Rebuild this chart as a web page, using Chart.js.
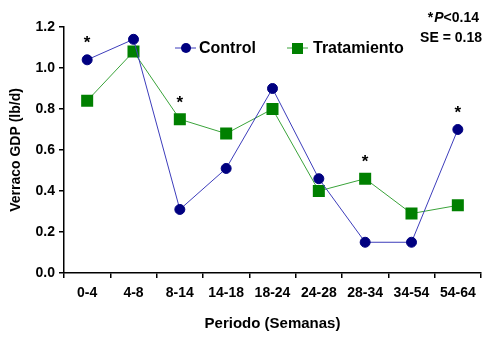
<!DOCTYPE html>
<html>
<head>
<meta charset="utf-8">
<script src="https://cdn.jsdelivr.net/npm/chart.js@4/dist/chart.umd.min.js"></script>
<style>
  html, body { margin: 0; padding: 0; background: #fff; }
  #wrap { width: 500px; height: 347px; }
</style>
</head>
<body>
<div id="wrap"><canvas id="myChart" width="500" height="347"></canvas></div>
<script>
// data
const periodos = ['0-4', '4-8', '8-14', '14-18', '18-24', '24-28', '28-34', '34-54', '54-64'];
const control = [1.04, 1.14, 0.31, 0.51, 0.90, 0.46, 0.15, 0.15, 0.70];
const tratamiento = [0.84, 1.08, 0.75, 0.68, 0.80, 0.40, 0.46, 0.29, 0.33];
const yTicks = [0.0, 0.2, 0.4, 0.6, 0.8, 1.0, 1.2];
// where the asterisks go: [series, index]
const asteriscos = [['control', 0], ['tratamiento', 2], ['tratamiento', 6], ['control', 8]];

const fuente = '"Liberation Sans", Arial, sans-serif';
const azul = '#000080', azulLinea = '#3d3dbb';
const verde = '#008000', verdeLinea = '#3aa33a';

// asterisks, legend and note on top of the chart
const extras = {
    id: 'extras',
    afterDatasetsDraw(chart) {
        const ctx = chart.ctx;
        const x = chart.scales.x, y = chart.scales.y;
        ctx.save();
        ctx.fillStyle = '#000';
        ctx.font = 'bold 17px ' + fuente;
        ctx.textAlign = 'center';
        ctx.textBaseline = 'middle';
        asteriscos.forEach(function (a) {
            const vals = a[0] === 'control' ? control : tratamiento;
            ctx.fillText('*', x.getPixelForValue(a[1]), y.getPixelForValue(vals[a[1]]) - 16);
        });

        // legend
        ctx.textAlign = 'left';
        ctx.font = 'bold 16px ' + fuente;
        ctx.lineWidth = 1;
        ctx.strokeStyle = azulLinea;
        ctx.beginPath(); ctx.moveTo(175, 48); ctx.lineTo(196, 48); ctx.stroke();
        ctx.fillStyle = azul;
        ctx.beginPath(); ctx.arc(186, 48, 5, 0, Math.PI * 2); ctx.fill();
        ctx.fillStyle = '#000';
        ctx.fillText('Control', 199, 49);

        ctx.strokeStyle = verdeLinea;
        ctx.beginPath(); ctx.moveTo(287, 48); ctx.lineTo(308, 48); ctx.stroke();
        ctx.fillStyle = verde;
        ctx.fillRect(292, 43, 11, 11);
        ctx.fillStyle = '#000';
        ctx.fillText('Tratamiento', 313, 49);

        // note
        ctx.textAlign = 'right';
        ctx.font = 'bold 14px ' + fuente;
        ctx.fillText('<0.14', 479, 18);
        const w = ctx.measureText('<0.14').width;
        ctx.font = 'italic bold 14px ' + fuente;
        ctx.fillText('P', 479 - w, 18);
        const wp = ctx.measureText('P').width;
        ctx.font = 'bold 14px ' + fuente;
        ctx.fillText('*', 479 - w - wp - 1, 18);
        ctx.fillText('SE = 0.18', 482, 38);
        ctx.restore();
    }
};

const config = {
    type: 'line',
    data: {
        labels: periodos,
        datasets: [{
            label: 'Control',
            data: control,
            borderColor: azulLinea,
            borderWidth: 1,
            backgroundColor: azul,
            pointBackgroundColor: azul,
            pointBorderColor: azul,
            pointRadius: 5,
            pointStyle: 'circle',
            tension: 0
        }, {
            label: 'Tratamiento',
            data: tratamiento,
            borderColor: verdeLinea,
            borderWidth: 1,
            backgroundColor: verde,
            pointBackgroundColor: verde,
            pointBorderColor: verde,
            pointRadius: 8.5,
            pointBorderWidth: 0,
            pointStyle: 'rect',
            tension: 0
        }]
    },
    options: {
        responsive: false,
        animation: false,
        layout: { padding: { top: 27, right: 19, bottom: 14, left: 0 } },
        plugins: { legend: { display: false }, tooltip: { enabled: false } },
        scales: {
            x: {
                offset: true,
                grid: { offset: true, drawOnChartArea: false, drawTicks: true, tickLength: 5, color: '#000', lineWidth: 1.5 },
                border: { color: '#000', width: 1.5 },
                ticks: { color: '#000', font: { family: fuente, weight: 'bold', size: 14 }, padding: 7, maxRotation: 0, autoSkip: false },
                title: { display: true, text: 'Periodo (Semanas)', color: '#000', font: { family: fuente, weight: 'bold', size: 15 }, padding: 0 },
                afterFit(scale) { scale.height = 60; }
            },
            y: {
                min: 0,
                max: 1.2,
                afterBuildTicks(scale) { scale.ticks = yTicks.map(function (v) { return { value: v }; }); },
                grid: { drawOnChartArea: false, drawTicks: true, tickLength: 5, color: '#000', lineWidth: 1.5 },
                border: { color: '#000', width: 1.5 },
                ticks: { color: '#000', font: { family: fuente, weight: 'bold', size: 14 }, padding: 4,
                    callback: function (v) { return Number(v).toFixed(1); } },
                title: { display: true, text: 'Verraco GDP (lb/d)', color: '#000', font: { family: fuente, weight: 'bold', size: 14 }, padding: { top: 8, bottom: 0 } },
                afterFit(scale) { scale.width = 64; }
            }
        }
    },
    plugins: [extras]
};

var myChart = new Chart(document.getElementById('myChart'), config);
</script>
</body>
</html>
